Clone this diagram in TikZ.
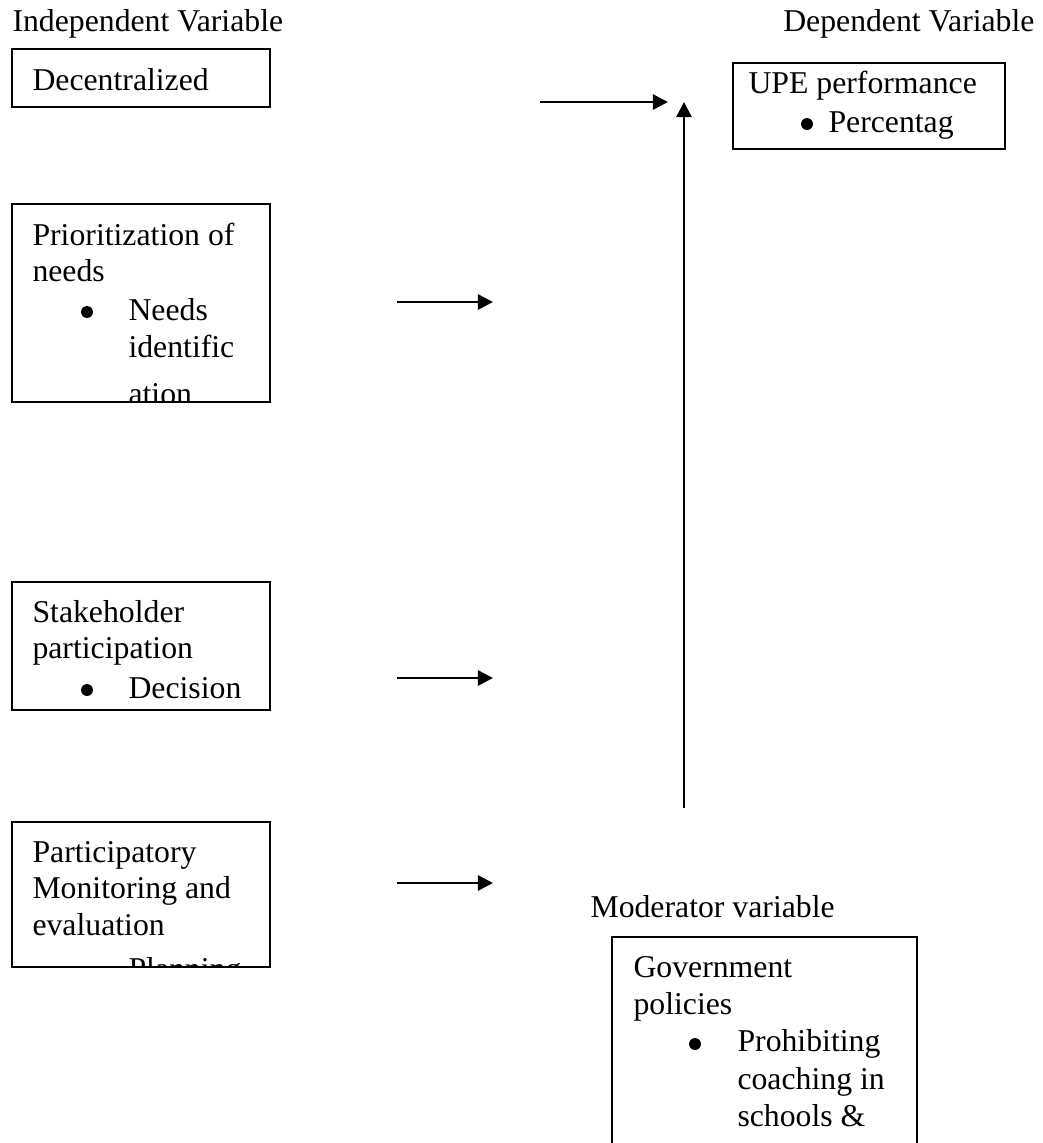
\documentclass[tikz,border=0pt]{standalone}
\usepackage{fontspec}
\setmainfont{Liberation Serif}
\usetikzlibrary{arrows.meta,fit}
\begin{document}
\begin{tikzpicture}[x=0.378pt,y=-0.378pt,
  box/.style={draw,line width=0.75pt,inner sep=0pt},
  txt/.style={anchor=base west,inner sep=0pt,font=\fontsize{12}{13.8}\selectfont},
  bul/.style={circle,fill,inner sep=0pt,minimum size=4.5pt},
  arr/.style={line width=0.95pt,-{Triangle[length=5.7pt,width=5.7pt]}}]
\useasboundingbox (0,0) rectangle (1043,1143);
\clip (0,0) rectangle (1043,1143);

% headings
\node[txt] (indep) at (12,31) {Independent Variable};
\node[txt,anchor=base east] (dep) at (1035,31) {Dependent Variable};
\node[txt] (moder) at (590,917) {Moderator variable};

% Decentralized
\coordinate (d1) at (12,49); \coordinate (d2) at (270,107);
\node[box,fit=(d1)(d2)] (decbox) {};
\node[txt] (dect) at (32,90) {Decentralized};

% UPE performance
\coordinate (u1) at (733,63); \coordinate (u2) at (1005,149);
\node[box,fit=(u1)(u2)] (upebox) {};
\node[txt] (upet) at (748,93) {UPE performance};
\node[bul] (upeb) at (807,124) {};
\node[txt] (upep) at (828,132) {Percentag};

% Prioritization
\coordinate (p1) at (12,204); \coordinate (p2) at (270,402);
\node[box,fit=(p1)(p2)] (pribox) {};
\begin{scope}
\clip (12,204) rectangle (270,401);
\node[txt] (prit1) at (32,245) {Prioritization of};
\node[txt] (prit2) at (32,281) {needs};
\node[bul] (prib) at (87,312) {};
\node[txt] (prit3) at (128,320) {Needs};
\node[txt] (prit4) at (128,357) {identific};
\node[txt] (prit5) at (128,404) {ation};
\end{scope}

% Stakeholder
\coordinate (s1) at (12,582); \coordinate (s2) at (270,710);
\node[box,fit=(s1)(s2)] (stabox) {};
\node[txt] (stat1) at (32,622) {Stakeholder};
\node[txt] (stat2) at (32,658) {participation};
\node[bul] (stab) at (87,690) {};
\node[txt] (stat3) at (128,698) {Decision};

% Participatory
\coordinate (m1) at (12,822); \coordinate (m2) at (270,967);
\node[box,fit=(m1)(m2)] (parbox) {};
\begin{scope}
\clip (12,822) rectangle (270,966);
\node[txt] (part1) at (32,862) {Participatory};
\node[txt] (part2) at (32,898) {Monitoring and};
\node[txt] (part3) at (32,935) {evaluation};
\node[txt] (part4) at (128,979) {Planning};
\end{scope}

% Government policies
\coordinate (g1) at (612,937); \coordinate (g2) at (917,1170);
\node[box,fit=(g1)(g2)] (govbox) {};
\node[txt] (govt1) at (633,977) {Government};
\node[txt] (govt2) at (633,1014) {policies};
\node[bul] (govb) at (695,1044) {};
\node[txt] (govt3) at (737,1051) {Prohibiting};
\node[txt] (govt4) at (737,1089) {coaching in};
\node[txt] (govt5) at (737,1126) {schools \&};

% arrows
\coordinate (a1s) at (540,102); \coordinate (a1e) at (668,102);
\coordinate (a2s) at (397,302); \coordinate (a2e) at (493,302);
\coordinate (a3s) at (397,678); \coordinate (a3e) at (493,678);
\coordinate (a4s) at (397,883); \coordinate (a4e) at (493,883);
\coordinate (vs) at (684,808); \coordinate (ve) at (684,102);
\draw[arr] (a1s) -- (a1e);
\draw[arr] (a2s) -- (a2e);
\draw[arr] (a3s) -- (a3e);
\draw[arr] (a4s) -- (a4e);
\draw[arr] (vs) -- (ve);
\end{tikzpicture}
\end{document}
